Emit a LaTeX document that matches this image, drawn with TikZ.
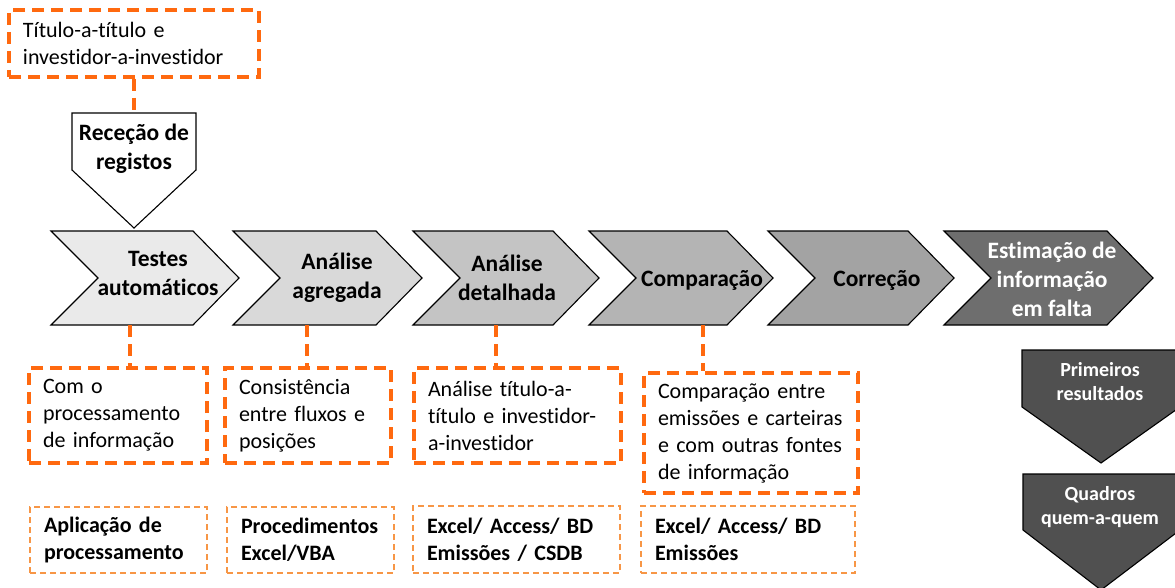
\documentclass[tikz,border=0pt]{standalone}
\usepackage{fontspec}
\setmainfont{Carlito}[Ligatures=NoCommon]
\usetikzlibrary{calc}
\definecolor{orng}{RGB}{255,105,15}
\definecolor{orngl}{RGB}{247,150,70}
\definecolor{chA}{RGB}{234,234,234}
\definecolor{chB}{RGB}{217,217,217}
\definecolor{chC}{RGB}{196,196,196}
\definecolor{chD}{RGB}{180,180,180}
\definecolor{chE}{RGB}{163,163,163}
\definecolor{chF}{RGB}{110,110,110}
\definecolor{arr}{RGB}{80,80,80}
\tikzset{
    chev/.style={draw=black, line width=1.1pt, line join=miter},
    steptext/.style={font=\bfseries\fontsize{23.5}{29}\selectfont, align=center},
    outtext/.style={font=\bfseries\fontsize{20}{24}\selectfont, align=center, text=white},
    conn/.style={draw=orng, line width=3.5pt, dash pattern=on 12pt off 7pt},
    note/.style 2 args={draw=orng, line width=3.5pt, dash pattern=on 12pt off 7pt, text width={#1-28pt}, inner xsep=14pt, minimum height=#2, align=left, font=\fontsize{22}{27}\selectfont},
    tool/.style 2 args={draw=orngl, line width=1.5pt, dash pattern=on 6pt off 4pt, text width={#1-28pt}, inner xsep=14pt, minimum height=#2, align=left, font=\bfseries\fontsize{22}{27}\selectfont}
}
\begin{document}
\begin{tikzpicture}[x=1pt, y=-1pt]
\useasboundingbox (0,0) rectangle (1175,588);
% process chevrons
\foreach \n/\xl/\xt/\col in {1/51/239/chA, 2/233/422/chB, 3/413/599/chC, 4/589/773/chD, 5/768/954/chE, 6/944/1153/chF}{
    \draw[chev, fill=\col] (\xl,231) -- ({\xt-46},231) -- (\xt,278) -- ({\xt-46},325) -- (\xl,325) -- ({\xl+47},278) -- cycle;
}
\node (t1) at (158,273.5) [steptext] {Testes\\automáticos};
\node (t2) at (337,277.5) [steptext] {Análise\\agregada};
\node (t3) at (507,277.5) [steptext] {Análise\\detalhada};
\node (t4) at (702,280) [steptext] {Comparação};
\node (t5) at (877,280) [steptext] {Correção};
\node (t6) at (1052,279.5) [steptext, text=white] {Estimação de\\informação\\em falta};
% input
\draw[chev, fill=white] (72,113) -- (196,113) -- (196,170) -- (134,228) -- (72,170) -- cycle;
\coordinate (rtop) at (134,113);
\node (rec) at (134,149) [steptext] {Receção de\\registos};
\node (tb) at (134,43.5) [note={250pt}{67pt}] {Título-a-título e\\investidor-a-investidor};
\draw[conn] (tb.south) -- (rtop);
% outputs
\draw[chev, fill=arr] (1022,350) -- (1180,350) -- (1180,407) -- (1101,463) -- (1022,407) -- cycle;
\draw[chev, fill=arr] (1023,474) -- (1180,474) -- (1180,530) -- (1101,590) -- (1023,530) -- cycle;
\node (o1) at (1100,382) [outtext] {Primeiros\\resultados};
\node (o2) at (1100,507) [outtext] {Quadros\\quem-a-quem};
% notes under the steps
\node (m1) at (118,415.5) [note={178pt}{95pt}] {Com o\\processamento\\de informação};
\node (m2) at (308,415.5) [note={166pt}{95pt}] {Consistência\\entre fluxos e\\posições};
\node (m3) at (517.5,415.5) [note={207pt}{95pt}] {Análise título-a-\\título e investidor-\\a-investidor};
\node (m4) at (751,433) [note={214pt}{120pt}] {Comparação entre\\emissões e carteiras\\e com outras fontes\\de informação};
\foreach \d/\x in {1/130, 2/307, 3/496, 4/703}{
    \coordinate (d\d) at (\x,325);
    \draw[conn] (d\d) -- (d\d |- m\d.north);
}
% tools
\node (b1) at (118.5,540) [tool={177pt}{66pt}] {Aplicação de\\processamento};
\node (b2) at (310.5,540) [tool={167pt}{66pt}] {Procedimentos\\Excel/VBA};
\node (b3) at (516.5,539.5) [tool={207pt}{67pt}] {Excel/ Access/ BD\\Emissões / CSDB};
\node (b4) at (748,539.5) [tool={214pt}{67pt}] {Excel/ Access/ BD\\Emissões};
\end{tikzpicture}
\end{document}
